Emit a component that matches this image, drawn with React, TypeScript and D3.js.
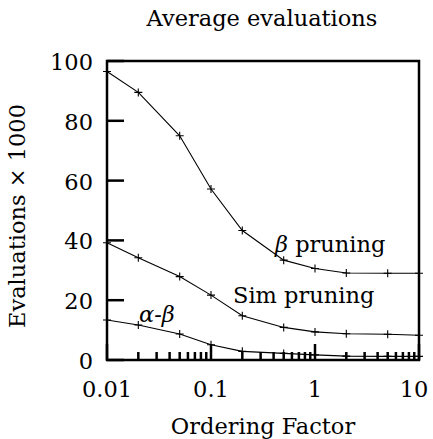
import React from "react";
import * as d3 from "d3";

const xValues = [0.01, 0.02, 0.05, 0.1, 0.2, 0.5, 1, 2, 5, 10];
const betaPruning = [96.5, 89.5, 75, 57.2, 43.3, 33.4, 30.6, 29.1, 29, 29];
const simPruning = [39.2, 34.2, 27.9, 21.7, 14.8, 10.9, 9.4, 8.8, 8.6, 8.3];
const alphaBeta = [13.4, 11.7, 8.7, 5.1, 2.9, 2.2, 1.7, 1.3, 1.2, 1.2];
const yTicks = [0, 20, 40, 60, 80, 100];
const xTicks = [0.01, 0.1, 1, 10];
const xTickLabels = ["0.01", "0.1", "1", "10"];

const W = 433, H = 439;
const m = { left: 107, right: 419, top: 61, bottom: 360 };
const FONT = "DejaVu Serif";
const FS = 22.5;

export default function App() {
  const x = d3.scaleLog().domain([0.01, 10]).range([m.left, m.right]);
  const y = d3.scaleLinear().domain([0, 100]).range([m.bottom, m.top]);
  const line = d3
    .line<number>()
    .x((_, i) => x(xValues[i]))
    .y((d) => y(d))
    .curve(d3.curveLinear);
  const series = [betaPruning, simPruning, alphaBeta];
  const minor: number[] = [];
  [0.01, 0.1, 1].forEach((b) => {
    for (let k = 2; k <= 9; k++) minor.push(b * k);
  });
  const ms = 4;
  const ts = { fontFamily: FONT, fontSize: FS };
  return (
    <svg width={W} height={H} style={{ position: "absolute", left: 0, top: 0, background: "#fff" }}>
      <text x={262} y={26} style={ts} textAnchor="middle">Average evaluations</text>
      {series.map((s, si) => (
        <g key={si}>
          <path d={line(s) || ""} fill="none" stroke="#000" strokeWidth={1.1} />
          {s.map((v, i) => (
            <path key={i} d={`M${x(xValues[i]) - ms},${y(v)}h${2 * ms}M${x(xValues[i])},${y(v) - ms}v${2 * ms}`} stroke="#000" strokeWidth={1.1} />
          ))}
        </g>
      ))}
      {yTicks.map((t) => (
        <g key={t}>
          <line x1={m.left} x2={m.left + 17} y1={y(t)} y2={y(t)} stroke="#000" strokeWidth={2.5} />
          <text x={93} y={y(t) + 9} style={ts} textAnchor="end">{t}</text>
        </g>
      ))}
      {xTicks.map((t, i) => (
        <g key={t}>
          <line x1={x(t)} x2={x(t)} y1={m.bottom} y2={m.bottom - 16} stroke="#000" strokeWidth={2.5} />
          <text x={x(t) - (i === xTicks.length - 1 ? 5 : 0)} y={397} style={ts} textAnchor="middle">{xTickLabels[i]}</text>
        </g>
      ))}
      {minor.map((t) => (
        <line key={t} x1={x(t)} x2={x(t)} y1={m.bottom} y2={m.bottom - 8} stroke="#000" strokeWidth={2.5} />
      ))}
      <rect x={m.left} y={m.top} width={m.right - m.left} height={m.bottom - m.top} fill="none" stroke="#000" strokeWidth={2.5} />
      <text x={275} y={252} style={ts}><tspan fontStyle="italic">β</tspan> pruning</text>
      <text x={233} y={303} style={ts}>Sim pruning</text>
      <text x={139} y={322} style={ts} fontStyle="italic">α-β</text>
      <text x={263} y={434} style={ts} textAnchor="middle">Ordering Factor</text>
      <text transform={`translate(25,216) rotate(-90)`} style={ts} textAnchor="middle">Evaluations × 1000</text>
    </svg>
  );
}
